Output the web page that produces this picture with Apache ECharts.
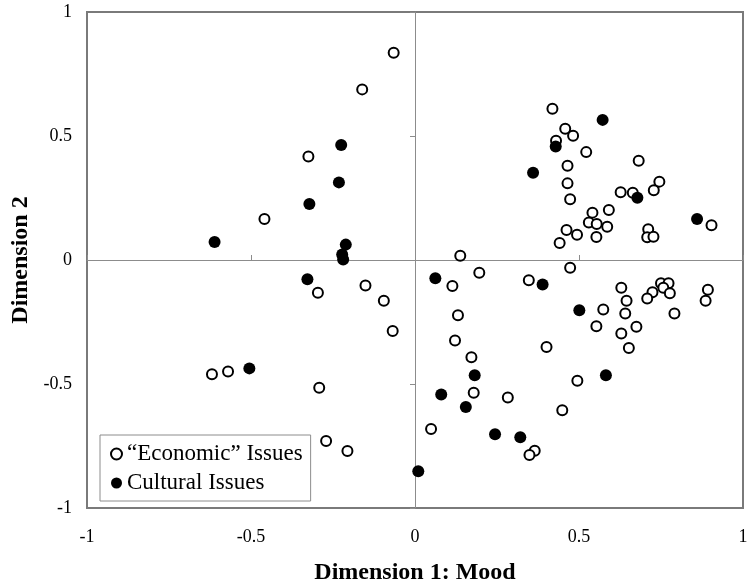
<!DOCTYPE html>
<html>
<head>
<meta charset="utf-8">
<script src="https://cdn.jsdelivr.net/npm/echarts@6/dist/echarts.min.js"></script>
<style>
html,body{margin:0;padding:0;background:#fff;}
#chart{width:747px;height:588px;}
</style>
</head>
<body>
<div id="chart"></div>
<script>
const seriesNames = ['\u201CEconomic\u201D Issues', 'Cultural Issues'];
const axisMin = -1, axisMax = 1, axisStep = 0.5;
const xTitle = 'Dimension 1: Mood';
const yTitle = 'Dimension 2';

const economicIssues = [
  [-0.065,0.836],[-0.161,0.688],[-0.325,0.417],[-0.459,0.165],
  [-0.296,-0.132],[-0.151,-0.103],[-0.095,-0.164],[-0.068,-0.286],[-0.619,-0.461],[-0.570,-0.450],
  [-0.292,-0.515],[-0.271,-0.730],[-0.206,-0.770],
  [0.419,0.610],[0.458,0.529],[0.482,0.501],[0.430,0.481],[0.522,0.435],[0.682,0.400],[0.465,0.380],
  [0.465,0.309],[0.473,0.245],[0.745,0.316],[0.728,0.281],[0.627,0.273],[0.664,0.271],[0.591,0.202],
  [0.541,0.191],[0.530,0.151],[0.554,0.145],[0.586,0.134],[0.711,0.124],[0.708,0.092],[0.727,0.094],
  [0.904,0.140],[0.462,0.121],[0.494,0.102],[0.553,0.093],[0.441,0.069],[0.138,0.017],
  [0.473,-0.031],[0.196,-0.051],[0.114,-0.105],[0.347,-0.082],[0.629,-0.112],[0.645,-0.164],
  [0.641,-0.216],[0.574,-0.200],[0.553,-0.267],[0.629,-0.296],[0.675,-0.269],[0.652,-0.355],
  [0.750,-0.094],[0.773,-0.094],[0.757,-0.112],[0.724,-0.130],[0.777,-0.134],[0.708,-0.155],
  [0.791,-0.216],[0.893,-0.120],[0.886,-0.164],[0.131,-0.223],[0.122,-0.325],[0.401,-0.351],
  [0.172,-0.392],[0.179,-0.535],[0.283,-0.554],[0.495,-0.487],[0.449,-0.606],[0.049,-0.681],
  [0.365,-0.769],[0.349,-0.786]
];

const culturalIssues = [
  [-0.225,0.464],[-0.232,0.313],[-0.322,0.226],[-0.611,0.073],[-0.211,0.062],[-0.222,0.022],
  [-0.219,0.002],[-0.328,-0.078],[-0.505,-0.437],[0.010,-0.852],
  [0.572,0.565],[0.429,0.458],[0.360,0.352],[0.678,0.251],[0.860,0.165],
  [0.062,-0.074],[0.389,-0.099],[0.501,-0.203],[0.582,-0.465],[0.182,-0.465],[0.080,-0.542],
  [0.155,-0.593],[0.244,-0.703],[0.321,-0.715]
];

const serif = "'Liberation Serif','Times New Roman',serif";
const chart = echarts.init(document.getElementById('chart'), null, {renderer:'canvas'});

const labelAxisX = {
  type:'value', min:axisMin, max:axisMax, interval:axisStep, position:'bottom',
  axisLine:{show:false, onZero:false}, axisTick:{show:false}, splitLine:{show:false},
  axisLabel:{fontFamily:serif, fontSize:18, color:'#000', margin:20},
  name:xTitle, nameLocation:'middle', nameGap:53,
  nameTextStyle:{fontFamily:serif, fontSize:24, fontWeight:'bold', color:'#000'}
};
const zeroAxisX = {
  type:'value', min:axisMin, max:axisMax, interval:axisStep, position:'bottom',
  axisLine:{show:true, onZero:true, onZeroAxisIndex:0, lineStyle:{color:'#8c8c8c', width:1}},
  axisTick:{show:true, inside:true, length:5, lineStyle:{color:'#8c8c8c'}},
  axisLabel:{show:false}, splitLine:{show:false}
};
const labelAxisY = {
  type:'value', min:axisMin, max:axisMax, interval:axisStep, position:'left',
  axisLine:{show:false, onZero:false}, axisTick:{show:false}, splitLine:{show:false},
  axisLabel:{fontFamily:serif, fontSize:18, color:'#000', margin:15},
  name:yTitle, nameLocation:'middle', nameGap:51, nameRotate:90,
  nameTextStyle:{fontFamily:serif, fontSize:24, fontWeight:'bold', color:'#000'}
};
const zeroAxisY = {
  type:'value', min:axisMin, max:axisMax, interval:axisStep, position:'left',
  axisLine:{show:true, onZero:true, onZeroAxisIndex:0, lineStyle:{color:'#8c8c8c', width:1}},
  axisTick:{show:true, inside:false, length:5, lineStyle:{color:'#8c8c8c'}},
  axisLabel:{show:false}, splitLine:{show:false}
};

chart.setOption({
  animation:false,
  backgroundColor:'#fff',
  grid:{left:87, right:4, top:12, bottom:80, outerBoundsMode:'none', containLabel:false,
        show:true, borderColor:'#7a7a7a', borderWidth:2, backgroundColor:'transparent'},
  xAxis:[labelAxisX, zeroAxisX],
  yAxis:[labelAxisY, zeroAxisY],
  legend:{
    orient:'vertical', left:100, top:435,
    padding:[7,8,6,10], itemGap:5, itemWidth:11, itemHeight:11,
    borderColor:'#8c8c8c', borderWidth:1, backgroundColor:'#fff',
    textStyle:{fontFamily:serif, fontSize:23, color:'#000', lineHeight:24},
    data:[seriesNames[0], seriesNames[1]]
  },
  series:[
    {
      name:seriesNames[0], type:'scatter', xAxisIndex:0, yAxisIndex:0,
      symbol:'circle', symbolSize:10,
      itemStyle:{color:'#fff', borderColor:'#000', borderWidth:2, opacity:1},
      data:economicIssues, z:3
    },
    {
      name:seriesNames[1], type:'scatter', xAxisIndex:0, yAxisIndex:0,
      symbol:'circle', symbolSize:12,
      itemStyle:{color:'#000', borderColor:'#000', borderWidth:0, opacity:1},
      data:culturalIssues, z:4
    }
  ]
});
</script>
</body>
</html>
